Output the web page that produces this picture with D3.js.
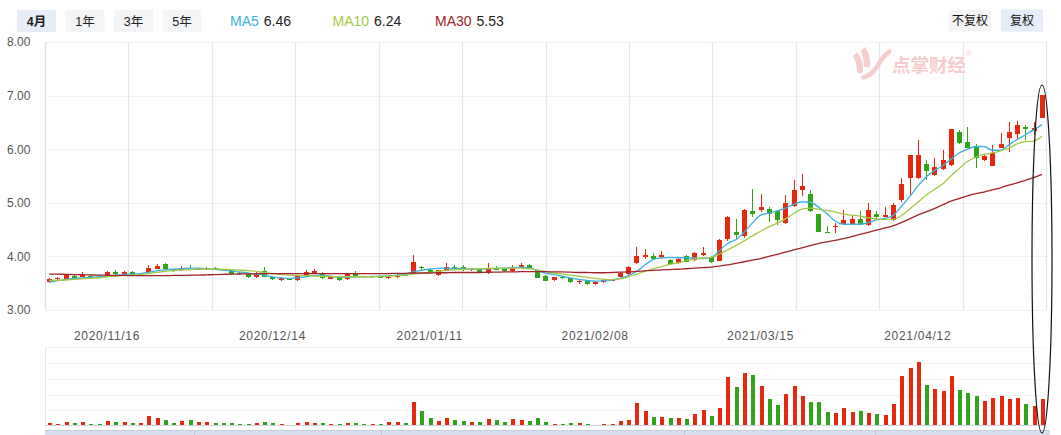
<!DOCTYPE html>
<html><head><meta charset="utf-8">
<script src="https://cdn.jsdelivr.net/npm/d3@7"></script>
<style>
body{margin:0;background:#fff;}
svg{display:block;font-family:"Liberation Sans","Noto Sans CJK SC",Arial,sans-serif;}
</style>
</head><body>
<svg id="chart" width="1061" height="435"></svg>
<script>
// ---------------- DATA ----------------
const dates = [
"2020/11/05","2020/11/06","2020/11/09","2020/11/10","2020/11/11","2020/11/12","2020/11/13","2020/11/16","2020/11/17","2020/11/18",
"2020/11/19","2020/11/20","2020/11/23","2020/11/24","2020/11/25","2020/11/26","2020/11/27","2020/11/30","2020/12/01","2020/12/02",
"2020/12/03","2020/12/04","2020/12/07","2020/12/08","2020/12/09","2020/12/10","2020/12/11","2020/12/14","2020/12/15","2020/12/16",
"2020/12/17","2020/12/18","2020/12/21","2020/12/22","2020/12/23","2020/12/24","2020/12/25","2020/12/28","2020/12/29","2020/12/30",
"2020/12/31","2021/01/04","2021/01/05","2021/01/06","2021/01/07","2021/01/08","2021/01/11","2021/01/12","2021/01/13","2021/01/14",
"2021/01/15","2021/01/18","2021/01/19","2021/01/20","2021/01/21","2021/01/22","2021/01/25","2021/01/26","2021/01/27","2021/01/28",
"2021/01/29","2021/02/01","2021/02/02","2021/02/03","2021/02/04","2021/02/05","2021/02/08","2021/02/09","2021/02/10","2021/02/18",
"2021/02/19","2021/02/22","2021/02/23","2021/02/24","2021/02/25","2021/02/26","2021/03/01","2021/03/02","2021/03/03","2021/03/04",
"2021/03/05","2021/03/08","2021/03/09","2021/03/10","2021/03/11","2021/03/12","2021/03/15","2021/03/16","2021/03/17","2021/03/18",
"2021/03/19","2021/03/22","2021/03/23","2021/03/24","2021/03/25","2021/03/26","2021/03/29","2021/03/30","2021/03/31","2021/04/01",
"2021/04/02","2021/04/06","2021/04/07","2021/04/08","2021/04/09","2021/04/12","2021/04/13","2021/04/14","2021/04/15","2021/04/16",
"2021/04/19","2021/04/20","2021/04/21","2021/04/22","2021/04/23","2021/04/26","2021/04/27","2021/04/28","2021/04/29","2021/04/30",
"2021/05/06"];

const openP = [3.53,3.57,3.585,3.64,3.62,3.64,3.64,3.63,3.71,3.67,
3.71,3.64,3.71,3.77,3.85,3.76,3.75,3.76,3.75,3.76,
3.78,3.76,3.75,3.69,3.67,3.61,3.72,3.62,3.56,3.575,
3.56,3.66,3.68,3.69,3.585,3.61,3.57,3.68,3.63,3.61,
3.63,3.60,3.62,3.66,3.68,3.80,3.75,3.65,3.73,3.80,
3.80,3.74,3.765,3.69,3.77,3.78,3.72,3.79,3.84,3.74,
3.64,3.565,3.62,3.59,3.54,3.555,3.48,3.52,3.545,3.615,
3.67,3.87,3.98,4.01,3.98,3.93,3.88,4.01,3.93,4.03,
3.98,3.92,4.32,4.46,4.38,4.85,4.87,4.88,4.84,4.62,
4.94,5.23,5.16,4.79,4.46,4.54,4.61,4.60,4.70,4.59,
4.79,4.735,4.67,5.05,5.47,5.47,5.72,5.51,5.63,5.705,
6.33,6.13,6.04,5.79,5.69,6.03,6.20,6.28,6.42,6.34,
6.59];
const highP = [3.59,3.62,3.66,3.65,3.71,3.65,3.65,3.72,3.75,3.73,
3.73,3.67,3.84,3.86,3.87,3.77,3.82,3.84,3.79,3.80,
3.80,3.77,3.76,3.70,3.68,3.72,3.81,3.63,3.61,3.58,
3.65,3.75,3.76,3.70,3.63,3.62,3.69,3.73,3.64,3.64,
3.64,3.63,3.67,3.67,4.03,3.83,3.79,3.75,3.88,3.84,
3.84,3.77,3.77,3.88,3.82,3.79,3.84,3.88,3.85,3.75,
3.65,3.62,3.63,3.60,3.57,3.56,3.535,3.58,3.58,3.70,
3.83,4.18,4.14,4.07,4.10,3.95,3.98,4.02,4.08,4.18,
3.99,4.32,4.75,4.70,4.88,5.26,5.16,4.92,4.85,5.15,
5.43,5.54,5.24,4.80,4.57,4.63,4.87,4.78,4.85,5.00,
4.85,4.92,4.99,5.46,5.90,6.17,5.80,5.83,5.99,6.38,
6.36,6.42,6.09,5.89,6.08,6.31,6.50,6.53,6.45,6.51,
7.01];
const lowP = [3.51,3.56,3.58,3.59,3.61,3.62,3.59,3.62,3.66,3.66,
3.65,3.63,3.70,3.76,3.75,3.71,3.74,3.74,3.74,3.75,
3.74,3.73,3.66,3.66,3.60,3.60,3.61,3.56,3.54,3.56,
3.55,3.65,3.67,3.58,3.58,3.55,3.56,3.63,3.60,3.60,
3.59,3.58,3.60,3.63,3.67,3.72,3.69,3.64,3.72,3.75,
3.73,3.73,3.69,3.68,3.74,3.71,3.71,3.78,3.78,3.59,
3.54,3.54,3.58,3.51,3.48,3.47,3.47,3.51,3.54,3.61,
3.66,3.86,3.95,3.94,3.97,3.84,3.86,3.89,3.92,4.01,
3.88,3.91,4.29,4.32,4.34,4.74,4.82,4.65,4.59,4.60,
4.93,5.13,4.83,4.45,4.43,4.44,4.60,4.59,4.58,4.57,
4.68,4.73,4.66,5.02,5.15,5.44,5.43,5.50,5.62,5.68,
6.10,6.02,5.64,5.78,5.68,6.02,5.95,6.17,6.18,6.27,
6.59];
const closeP = [3.58,3.59,3.645,3.60,3.66,3.63,3.60,3.71,3.67,3.71,
3.66,3.66,3.78,3.82,3.76,3.72,3.77,3.75,3.78,3.78,
3.75,3.74,3.67,3.68,3.61,3.68,3.62,3.57,3.60,3.57,
3.64,3.71,3.73,3.59,3.62,3.56,3.67,3.64,3.61,3.63,
3.60,3.62,3.66,3.64,3.90,3.79,3.70,3.74,3.80,3.76,
3.74,3.76,3.70,3.78,3.75,3.72,3.80,3.84,3.79,3.60,
3.55,3.615,3.59,3.52,3.545,3.48,3.53,3.565,3.575,3.69,
3.81,4.01,4.03,3.95,4.03,3.85,3.96,3.90,4.07,4.07,
3.90,4.31,4.74,4.40,4.87,4.80,4.93,4.79,4.67,5.00,
5.24,5.31,4.85,4.46,4.44,4.57,4.68,4.70,4.59,4.87,
4.74,4.77,4.96,5.35,5.89,5.89,5.60,5.67,5.80,6.377,
6.11,6.03,5.83,5.87,5.92,6.10,6.33,6.46,6.37,6.39,
7.01];
const volume = [2,1.5,3,2,3,1,1,4,3,3,
2,2,9,7,5,2,4,5,3,3,
2,2,2,1,1,2,3,2,1,0.3,
2,3,2,2,1,1,2,2,1,1,
1,3,3,2,23,14,7,4,7,5,
4,3,3,6,5,3,6,5,4,7,
3,1,1,2,2,1,0.3,1,1,4,
5,22,14,8,8,7,7,6,11,15,
9,17,48,38,52,50,39,26,20,31,
39,29,23,23,13,12,17,13,14,12,
11,10,21,49,57,63,40,36,34,49,
35,32,29,24,27,29,26,27,21,19,
26];
const ma5 = [3.52,3.55,3.57,3.59,3.60,3.61,3.62,3.63,3.645,3.66,
3.67,3.68,3.70,3.73,3.75,3.76,3.77,3.78,3.78,3.77,
3.76,3.745,3.73,3.71,3.69,3.67,3.645,3.62,3.60,3.59,
3.60,3.62,3.64,3.65,3.63,3.615,3.61,3.615,3.62,3.625,
3.63,3.64,3.65,3.67,3.71,3.74,3.76,3.775,3.78,3.775,
3.77,3.765,3.765,3.77,3.775,3.78,3.79,3.80,3.78,3.74,
3.69,3.66,3.63,3.60,3.57,3.55,3.54,3.545,3.56,3.59,
3.64,3.72,3.84,3.94,3.97,3.98,3.975,3.975,3.97,3.96,
3.98,4.10,4.24,4.31,4.45,4.62,4.77,4.81,4.85,4.90,
4.97,5.02,5.01,4.92,4.80,4.66,4.60,4.60,4.60,4.63,
4.68,4.71,4.76,4.93,5.11,5.31,5.48,5.60,5.69,5.81,
5.93,6.00,6.05,6.05,5.98,5.98,6.08,6.18,6.27,6.36,
6.46];
const ma10 = [3.55,3.555,3.56,3.57,3.58,3.59,3.60,3.62,3.63,3.64,
3.65,3.66,3.68,3.70,3.72,3.735,3.745,3.755,3.76,3.765,
3.765,3.76,3.755,3.745,3.735,3.72,3.70,3.68,3.665,3.65,
3.645,3.64,3.635,3.63,3.625,3.62,3.62,3.62,3.62,3.62,
3.625,3.63,3.64,3.65,3.67,3.685,3.70,3.72,3.74,3.75,
3.76,3.765,3.77,3.775,3.775,3.78,3.78,3.78,3.77,3.75,
3.72,3.69,3.67,3.65,3.63,3.61,3.59,3.575,3.565,3.58,
3.62,3.67,3.72,3.77,3.81,3.85,3.88,3.92,3.95,3.97,
3.98,4.04,4.12,4.20,4.29,4.38,4.47,4.55,4.62,4.70,
4.80,4.88,4.90,4.88,4.86,4.83,4.79,4.77,4.75,4.72,
4.70,4.69,4.69,4.76,4.88,5.01,5.14,5.25,5.35,5.50,
5.64,5.77,5.85,5.90,5.93,5.97,6.02,6.10,6.14,6.15,
6.24];
const ma30 = [3.67,3.67,3.665,3.66,3.66,3.655,3.65,3.65,3.645,3.645,
3.64,3.64,3.64,3.64,3.64,3.645,3.645,3.65,3.65,3.655,
3.66,3.665,3.67,3.67,3.675,3.675,3.68,3.68,3.68,3.68,
3.68,3.68,3.68,3.68,3.68,3.68,3.68,3.68,3.68,3.68,
3.68,3.68,3.685,3.685,3.69,3.69,3.69,3.695,3.695,3.70,
3.70,3.70,3.70,3.705,3.705,3.71,3.71,3.715,3.715,3.715,
3.715,3.71,3.71,3.705,3.70,3.70,3.695,3.695,3.70,3.705,
3.71,3.72,3.73,3.74,3.75,3.755,3.76,3.77,3.78,3.79,
3.80,3.82,3.84,3.87,3.90,3.93,3.96,4.00,4.04,4.08,
4.12,4.16,4.20,4.24,4.27,4.30,4.33,4.37,4.41,4.45,
4.49,4.53,4.57,4.63,4.70,4.77,4.83,4.89,4.96,5.03,
5.08,5.13,5.17,5.20,5.24,5.28,5.33,5.37,5.42,5.47,
5.53];

const xTickLabels = ["2020/11/16","2020/12/14","2021/01/11","2021/02/08","2021/03/15","2021/04/12"];
const yTicks = [3,4,5,6,7,8];
const periodButtons = ["4月","1年","3年","5年"];
const maNames = ["MA5","MA10","MA30"];
const maValues = ["6.46","6.24","5.53"];
const rightButtons = ["不复权","复权"];

// ---------------- STYLE / LAYOUT ----------------
const RED = "#e5280f", GREEN = "#30a51c";
const maColors = ["#3cb2de","#a3c846","#a0242a"];
const L = 45, R = 1046;
const svg = d3.select("#chart");

const x = d3.scaleBand().domain(dates).range([L, R]).padding(0);
const cx = d => x(d) + x.bandwidth() / 2;
const y = d3.scaleLinear().domain([3, 8]).range([310, 42]);
const yv = d3.scaleLinear().domain([0, 78]).range([425, 347]);

// ---------- header ----------
const hdr = svg.append("g");
const btnX = [17, 65.5, 114, 162.5];
periodButtons.forEach((t, i) => {
  hdr.append("rect").attr("x", btnX[i]).attr("y", 10).attr("width", 39).attr("height", 22)
    .attr("fill", i === 0 ? "#e7eef8" : "#f4f5f6");
  hdr.append("text").attr("x", btnX[i] + 19.5).attr("y", 25.5).attr("text-anchor", "middle")
    .attr("font-size", 12.5).attr("font-weight", i === 0 ? "bold" : "normal")
    .attr("fill", "#222").text(t);
});
const maX = [230, 332.5, 435];
maNames.forEach((n, i) => {
  const t = hdr.append("text").attr("x", maX[i]).attr("y", 25.5).attr("font-size", 14);
  t.append("tspan").attr("fill", maColors[i]).text(n);
  t.append("tspan").attr("fill", "#222").attr("dx", 5).text(maValues[i]);
});
const rbX = [949, 1001], rbW = [42, 42];
rightButtons.forEach((t, i) => {
  hdr.append("rect").attr("x", rbX[i]).attr("y", 9.5).attr("width", rbW[i]).attr("height", 22)
    .attr("fill", i === 0 ? "#f5f5f5" : "#e5edf8");
  hdr.append("text").attr("x", rbX[i] + rbW[i] / 2).attr("y", 25).attr("text-anchor", "middle")
    .attr("font-size", 12).attr("fill", "#111").text(t);
});

// ---------- grid ----------
const grid = svg.append("g");
yTicks.forEach(t => {
  grid.append("line").attr("x1", L).attr("x2", R).attr("y1", Math.round(y(t)) + 0.5).attr("y2", Math.round(y(t)) + 0.5)
    .attr("stroke", "#f1f2f4");
});
for (let k = 0; k <= 12; k++) {
  const gx = Math.round(L + k * (R - L) / 12) + 0.5;
  grid.append("line").attr("x1", gx).attr("x2", gx).attr("y1", 42).attr("y2", 310)
    .attr("stroke", k === 0 ? "#d9dfe9" : "#e2e7ef").attr("stroke-width", 1.3);
}
[347, 363, 379, 394.5, 410].forEach(gy => {
  grid.append("line").attr("x1", L).attr("x2", R).attr("y1", Math.round(gy) + 0.5).attr("y2", Math.round(gy) + 0.5)
    .attr("stroke", "#f2f3f5");
});
grid.append("line").attr("x1", L + 0.5).attr("x2", L + 0.5).attr("y1", 347).attr("y2", 425).attr("stroke", "#e3e7ee");
grid.append("line").attr("x1", L).attr("x2", R).attr("y1", 425.5).attr("y2", 425.5).attr("stroke", "#cfd6e2");

svg.append("g").selectAll("text").data(yTicks).join("text")
  .attr("x", 7).attr("y", d => y(d)).attr("dy", "0.36em")
  .attr("font-size", 12).attr("fill", "#555").text(d => d.toFixed(2));

svg.append("g").selectAll("text").data(xTickLabels).join("text")
  .attr("x", d => cx(d)).attr("y", 340).attr("text-anchor", "middle")
  .attr("font-size", 12).attr("letter-spacing", "0.7px").attr("fill", "#555").text(d => d);

// ---------- watermark ----------
const wm = svg.append("g").attr("fill", "#f5cdcd");
wm.append("path").attr("d", "M857,52 q7,9 6,20 q-3,3 -6,0 q0,-9 -4,-16 z");
wm.append("path").attr("d", "M865,47 q6,8 5,19 q-3,3 -6,0 q0,-8 -3,-15 z");
wm.append("path").attr("d", "M861,76 q11,-3 17,-15 q5,-9 12,-12 q3,2 0,5 q-7,6 -11,14 q-7,11 -17,12 z");
wm.append("text").attr("x", 892).attr("y", 72).attr("font-size", 18.5).attr("font-weight", "bold")
  .attr("font-family", "Noto Sans CJK SC").text("点掌财经");
wm.append("text").attr("x", 966).attr("y", 56).attr("font-size", 8).text("®");

// ---------- candles ----------
const idx = d3.range(dates.length);
const cg = svg.append("g").attr("shape-rendering", "crispEdges");
const col = i => closeP[i] >= openP[i] ? RED : GREEN;
cg.selectAll("line.w").data(idx).join("line")
  .attr("x1", i => Math.round(cx(dates[i])) + 0.5).attr("x2", i => Math.round(cx(dates[i])) + 0.5)
  .attr("y1", i => y(highP[i])).attr("y2", i => y(lowP[i]))
  .attr("stroke", col);
cg.selectAll("rect.b").data(idx).join("rect")
  .attr("x", i => Math.round(cx(dates[i])) - 2).attr("width", 5)
  .attr("y", i => y(Math.max(openP[i], closeP[i])))
  .attr("height", i => Math.max(1, Math.abs(y(openP[i]) - y(closeP[i]))))
  .attr("fill", col);

// ---------- MA lines ----------
[ma5, ma10, ma30].forEach((arr, k) => {
  svg.append("path").datum(idx)
    .attr("d", d3.line().x(i => cx(dates[i])).y(i => y(arr[i])).curve(d3.curveMonotoneX))
    .attr("fill", "none").attr("stroke", maColors[k]).attr("stroke-width", 1.3);
});

// ---------- volume ----------
svg.append("g").attr("shape-rendering", "crispEdges").selectAll("rect").data(idx).join("rect")
  .attr("x", i => Math.round(cx(dates[i])) - 1.5).attr("width", 4)
  .attr("y", i => yv(volume[i])).attr("height", i => 425 - yv(volume[i]))
  .attr("fill", col);

// ---------- navigator ----------
const nav = svg.append("g");
nav.append("rect").attr("x", L).attr("y", 430).attr("width", 1050 - L).attr("height", 6).attr("fill", "#d6ddeb");
nav.append("line").attr("x1", L).attr("x2", 1050).attr("y1", 430.5).attr("y2", 430.5).attr("stroke", "#c6cfdf");
[194, 381, 684, 875].forEach(dx => {
  nav.append("line").attr("x1", dx + 0.5).attr("x2", dx + 0.5).attr("y1", 431).attr("y2", 435).attr("stroke", "#c0c9da");
});

// ---------- annotation ellipse ----------
svg.append("ellipse").attr("cx", 1042).attr("cy", 259).attr("rx", 10).attr("ry", 174)
  .attr("fill", "none").attr("stroke", "#111").attr("stroke-width", 1.2);
</script>
</body></html>
